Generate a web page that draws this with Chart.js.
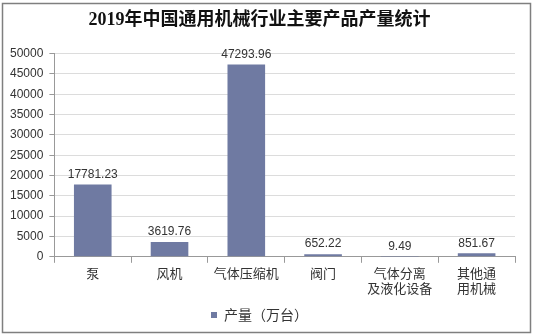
<!DOCTYPE html>
<html>
<head>
<meta charset="utf-8">
<script src="https://cdn.jsdelivr.net/npm/chart.js@4/dist/chart.umd.min.js"></script>
<style>
  html, body { margin: 0; padding: 0; background: #fff; }
  #wrap { width: 533px; height: 336px; }
</style>
</head>
<body>
<div id="wrap"><canvas id="barGraph" width="533" height="336"></canvas></div>
<script>
// prodotti e produzione (万台)
var categorie = ['泵', '风机', '气体压缩机', '阀门', ['气体分离', '及液化设备'], ['其他通', '用机械']];
var produzione = [17781.23, 3619.76, 47293.96, 652.22, 9.49, 851.67];
var etichette = ['17781.23', '3619.76', '47293.96', '652.22', '9.49', '851.67'];
var tickY = [0, 5000, 10000, 15000, 20000, 25000, 30000, 35000, 40000, 45000, 50000];

// cornice grigia intorno al grafico
var cornice = {
  id: 'cornice',
  beforeDraw: function(chart) {
    var ctx = chart.ctx;
    ctx.save();
    ctx.fillStyle = '#fff';
    ctx.fillRect(0, 0, chart.width, chart.height);
    ctx.strokeStyle = '#7f7f7f';
    ctx.lineWidth = 1.5;
    ctx.strokeRect(2.5, 3.5, 528, 329);
    ctx.restore();
  }
};

// valori scritti sopra le barre
var valoriSopra = {
  id: 'valoriSopra',
  afterDatasetsDraw: function(chart) {
    var ctx = chart.ctx;
    var meta = chart.getDatasetMeta(0);
    ctx.save();
    ctx.font = '12px "Liberation Sans", Arial, sans-serif';
    ctx.fillStyle = '#333';
    ctx.textAlign = 'center';
    ctx.textBaseline = 'bottom';
    meta.data.forEach(function(bar, i) {
      ctx.fillText(etichette[i], bar.x, bar.y - 4);
    });
    ctx.restore();
  }
};

var ctx = document.getElementById('barGraph');
var myChart = new Chart(ctx, {
  type: 'bar',
  data: {
    labels: categorie,
    datasets: [{
      label: '产量（万台）',
      data: produzione,
      backgroundColor: '#6f7aa2',
      barPercentage: 0.49,
      categoryPercentage: 1
    }]
  },
  options: {
    responsive: false,
    animation: false,
    layout: { padding: { left: 4, right: 18, top: 0, bottom: 4 } },
    plugins: {
      title: {
        display: true,
        text: '2019年中国通用机械行业主要产品产量统计',
        color: '#111',
        font: { family: '"Liberation Serif", "Noto Sans CJK SC", serif', size: 18, weight: 'bold' },
        padding: { top: 10, bottom: 22 }
      },
      legend: {
        position: 'bottom',
        labels: {
          color: '#333',
          boxWidth: 6,
          boxHeight: 6,
          font: { family: '"Noto Sans CJK SC", sans-serif', size: 14 }
        }
      },
      tooltip: { enabled: false }
    },
    scales: {
      x: {
        grid: { display: true, drawOnChartArea: false, offset: true, tickLength: 6, color: '#999' },
        border: { color: '#999' },
        ticks: {
          color: '#333',
          maxRotation: 0,
          autoSkip: false,
          padding: 2,
          font: { family: '"Noto Sans CJK SC", sans-serif', size: 13 }
        }
      },
      y: {
        min: 0,
        max: 50000,
        afterBuildTicks: function(axis) {
          axis.ticks = tickY.map(function(v) { return { value: v }; });
        },
        grid: { color: '#dcdcdc', tickLength: 5, tickColor: '#999' },
        border: { color: '#999' },
        ticks: {
          color: '#333',
          padding: 6,
          callback: function(v) { return String(v); },
          font: { family: '"Liberation Sans", Arial, sans-serif', size: 12 }
        }
      }
    }
  },
  plugins: [cornice, valoriSopra]
});
</script>
</body>
</html>
